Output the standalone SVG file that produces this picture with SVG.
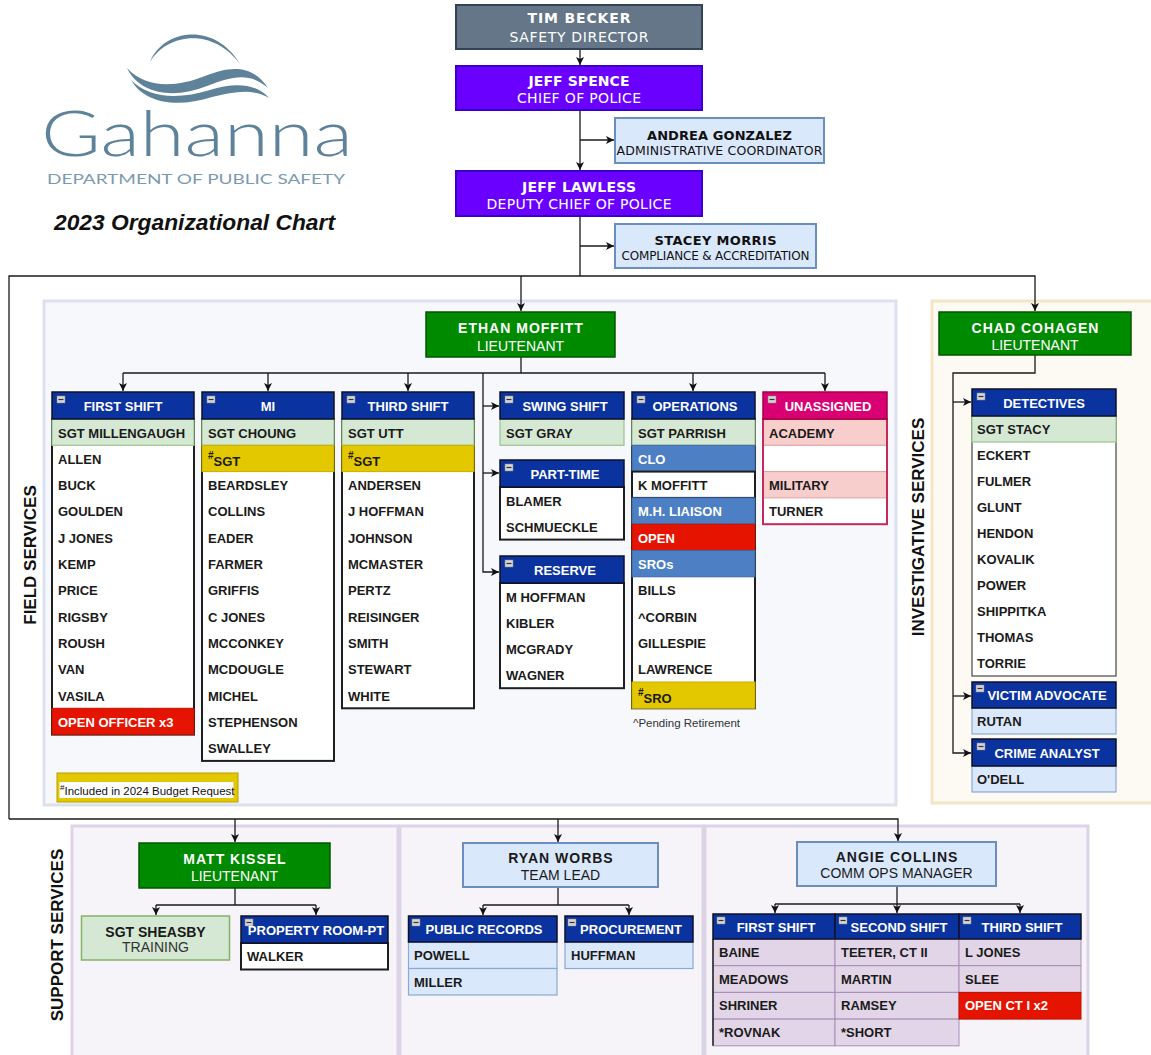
<svg xmlns="http://www.w3.org/2000/svg" width="1151" height="1055" viewBox="0 0 1151 1055">
<defs>
<style>
.tah{font-family:"DejaVu Sans",Verdana,sans-serif;text-anchor:middle}
.nm{font-family:"Liberation Sans",Arial,sans-serif;font-size:13px;font-weight:bold;fill:#1a1a1a}
.nw{fill:#fff}
.hd{font-family:"Liberation Sans",Arial,sans-serif;font-size:13px;font-weight:bold;fill:#fff;text-anchor:middle}
.hdr{fill:#0b339f;stroke:#101028;stroke-width:1.5}
.body{fill:#fff;stroke:#1e1e1e;stroke-width:2}
.sgt{fill:#d5e8d4;stroke:#9cc48a;stroke-width:1.2}
.yel{fill:#e3c800;stroke:#c8ad00;stroke-width:1}
.red{fill:#e51400;stroke:#c01000;stroke-width:1}
.clo{fill:#4d7fc4;stroke:#3d68a8;stroke-width:1}
.lbl{fill:#dae8fc;stroke:#8aa8d4;stroke-width:1.2}
.pur{fill:#e1d5e7;stroke:#a98cb8;stroke-width:1}
.pink{fill:#f8cecc;stroke:#e3a0a5;stroke-width:1}
.conn{fill:none;stroke:#1a1a1a;stroke-width:1.3}
.arr{marker-end:url(#ah)}
.grn{fill:#008a00;stroke:#005700;stroke-width:1.5}
.blu{fill:#dae8fc;stroke:#6c8ebf;stroke-width:2}
.lt{font-family:"Liberation Sans",Arial,sans-serif;font-size:14px;fill:#fff;text-anchor:middle}
.dk{fill:#1a1a1a}
.gr{fill:#333}
.ltb{font-weight:bold;letter-spacing:1px}
.sec{font-family:"Liberation Sans",Arial,sans-serif;font-size:17px;font-weight:bold;fill:#111;text-anchor:middle}
.panel{stroke-width:3}
</style>
<marker id="ah" markerWidth="9" markerHeight="8" refX="8" refY="4" orient="auto" markerUnits="userSpaceOnUse"><path d="M0,0 L8,4 L0,8 L2,4 Z" fill="#111"/></marker>
<g id="mn"><rect x="0" y="0" width="8" height="7" fill="#d4d4d4" stroke="#888" stroke-width="0.5"/><line x1="1.5" y1="3.5" x2="6.5" y2="3.5" stroke="#333" stroke-width="1.2"/></g>
</defs>
<rect width="1151" height="1055" fill="#fff"/>

<g id="logo">
<path d="M150,62 C162,30 214,20 240,64 C212,26 166,34 150,62 Z" fill="#5e8299"/>
<path d="M127,68 C145,88 175,88 205,76 C230,66 252,64 268,88 C250,72 232,76 207,86 C175,99 140,95 127,68 Z" fill="#5e8299"/>
<path d="M131,80 C148,98 178,100 210,90 C232,83 255,82 269,98 C252,88 234,92 212,97 C178,108 145,104 131,80 Z" fill="#5e8299"/>
<text x="41" y="156" font-family="Lato,'Open Sans',sans-serif" font-weight="300" font-size="64" fill="#5e8299" textLength="312" lengthAdjust="spacingAndGlyphs">Gahanna</text>
<text x="47" y="183.5" font-family="Lato,'Open Sans',sans-serif" font-size="13.5" fill="#7b9ab0" textLength="298" lengthAdjust="spacingAndGlyphs">DEPARTMENT OF PUBLIC SAFETY</text>
<text x="54" y="230" font-family="'Liberation Sans',Arial,sans-serif" font-weight="bold" font-style="italic" font-size="22.5" fill="#111" textLength="281" lengthAdjust="spacingAndGlyphs">2023 Organizational Chart</text>
</g>

<g id="panels">
<rect class="panel" x="44" y="301" width="852" height="504" fill="#f6f8fc" stroke="#dbe2ee"/>
<rect class="panel" x="932" y="301" width="230" height="502" fill="#fdfaf3" stroke="#f3e5c6"/>
<rect class="panel" x="72" y="826" width="326" height="240" fill="#f6f4f8" stroke="#ddd3e6"/>
<rect class="panel" x="400" y="826" width="303" height="240" fill="#f6f4f8" stroke="#ddd3e6"/>
<rect class="panel" x="705" y="826" width="383" height="240" fill="#f6f4f8" stroke="#ddd3e6"/>
</g>

<g id="section-labels">
<text class="sec" transform="translate(36,555) rotate(-90)">FIELD SERVICES</text>
<text class="sec" transform="translate(924,527) rotate(-90)">INVESTIGATIVE SERVICES</text>
<text class="sec" transform="translate(63,935) rotate(-90)" font-size="17.5">SUPPORT SERVICES</text>
</g>

<g id="connectors">
<path class="conn arr" d="M580,49 V65"/>
<path class="conn arr" d="M580,110 V170"/>
<path class="conn arr" d="M580,140 H614"/>
<path class="conn" d="M580,216 V276"/>
<path class="conn arr" d="M580,246 H614"/>
<path class="conn arr" d="M9,819 V276 H1035 V311"/>
<path class="conn arr" d="M521,276 V311"/>
<path class="conn arr" d="M9,819 H898 V841"/>
<path class="conn arr" d="M235,819 V842"/>
<path class="conn arr" d="M558,819 V842"/>
<path class="conn" d="M521,357 V373 M123,373 H825"/>
<path class="conn arr" d="M123,373 V391"/>
<path class="conn arr" d="M268,373 V391"/>
<path class="conn arr" d="M408,373 V391"/>
<path class="conn arr" d="M693,373 V391"/>
<path class="conn arr" d="M825,373 V391"/>
<path class="conn arr" d="M483,373 V572 H499"/>
<path class="conn arr" d="M483,406 H499"/>
<path class="conn arr" d="M483,473 H499"/>
<path class="conn arr" d="M1035,355 V373 H953 V753 H971"/>
<path class="conn arr" d="M953,402 H971"/>
<path class="conn arr" d="M953,696 H971"/>
<path class="conn" d="M235,888 V905 M156,905 H316"/>
<path class="conn arr" d="M156,905 V915"/>
<path class="conn arr" d="M316,905 V915"/>
<path class="conn" d="M558,887 V905 M483,905 H629"/>
<path class="conn arr" d="M483,905 V915"/>
<path class="conn arr" d="M629,905 V915"/>
<path class="conn" d="M897,886 V904 M775,904 H1020"/>
<path class="conn arr" d="M775,904 V913"/>
<path class="conn arr" d="M897,904 V913"/>
<path class="conn arr" d="M1020,904 V913"/>
</g>

<g id="tim-becker">
<rect x="456" y="5" width="246" height="44" fill="#647687" stroke="#314354" stroke-width="2"/>
<text class="tah" x="579" y="23" font-size="14" font-weight="bold" fill="#fff" textLength="103">TIM BECKER</text>
<text class="tah" x="579" y="41.5" font-size="14" fill="#fff" textLength="139">SAFETY DIRECTOR</text>
</g>
<g id="jeff-spence">
<rect x="456" y="66" width="246" height="44" fill="#6a00ff" stroke="#3700cc" stroke-width="2"/>
<text class="tah" x="579" y="86" font-size="14" font-weight="bold" fill="#fff" textLength="101">JEFF SPENCE</text>
<text class="tah" x="579" y="103" font-size="14" fill="#fff" textLength="124">CHIEF OF POLICE</text>
</g>
<g id="andrea-gonzalez">
<rect class="blu" x="615" y="118" width="209" height="45"/>
<text class="tah" x="719.5" y="139.5" font-size="13" font-weight="bold" fill="#111" textLength="145">ANDREA GONZALEZ</text>
<text class="tah" x="719.5" y="154.5" font-size="12.5" fill="#111" textLength="206">ADMINISTRATIVE COORDINATOR</text>
</g>
<g id="jeff-lawless">
<rect x="456" y="171" width="246" height="45" fill="#6a00ff" stroke="#3700cc" stroke-width="2"/>
<text class="tah" x="579" y="191.5" font-size="14" font-weight="bold" fill="#fff" textLength="114">JEFF LAWLESS</text>
<text class="tah" x="579" y="208.5" font-size="14" fill="#fff" textLength="185">DEPUTY CHIEF OF POLICE</text>
</g>
<g id="stacey-morris">
<rect class="blu" x="615" y="224" width="201" height="44"/>
<text class="tah" x="715.5" y="245" font-size="13" font-weight="bold" fill="#111" textLength="122">STACEY MORRIS</text>
<text class="tah" x="715.5" y="259.5" font-size="12" fill="#111" textLength="188">COMPLIANCE &amp; ACCREDITATION</text>
</g>

<g id="ethan-moffitt">
<rect class="grn" x="426" y="312" width="189" height="45"/>
<text class="lt ltb" x="521" y="333">ETHAN MOFFITT</text>
<text class="lt" x="520.5" y="351">LIEUTENANT</text>
</g>
<g id="chad-cohagen">
<rect class="grn" x="939" y="312" width="192" height="43"/>
<text class="lt ltb" x="1035.5" y="333">CHAD COHAGEN</text>
<text class="lt" x="1035" y="350">LIEUTENANT</text>
</g>

<g id="first-shift">
<rect class="body" x="52" y="419" width="142" height="315.6"/>
<rect class="sgt" x="52" y="419" width="142" height="26.3"/>
<rect class="red" x="52" y="708.3" width="142" height="26.3"/>
<rect class="hdr" x="52" y="392" width="142" height="27"/>
<use href="#mn" x="57" y="396"/>
<text class="hd" x="123" y="411">FIRST SHIFT</text>
<text class="nm" x="58" y="437.5">SGT MILLENGAUGH</text>
<text class="nm" x="58" y="463.8">ALLEN</text>
<text class="nm" x="58" y="490.1">BUCK</text>
<text class="nm" x="58" y="516.4">GOULDEN</text>
<text class="nm" x="58" y="542.7">J JONES</text>
<text class="nm" x="58" y="569">KEMP</text>
<text class="nm" x="58" y="595.3">PRICE</text>
<text class="nm" x="58" y="621.6">RIGSBY</text>
<text class="nm" x="58" y="647.9">ROUSH</text>
<text class="nm" x="58" y="674.2">VAN</text>
<text class="nm" x="58" y="700.5">VASILA</text>
<text class="nm nw" x="58" y="726.8">OPEN OFFICER x3</text>
</g>

<g id="mi">
<rect class="body" x="202" y="419" width="132" height="341.9"/>
<rect class="sgt" x="202" y="419" width="132" height="26.3"/>
<rect class="yel" x="202" y="445.3" width="132" height="26.3"/>
<rect class="hdr" x="202" y="392" width="132" height="27"/>
<use href="#mn" x="207" y="396"/>
<text class="hd" x="268" y="411">MI</text>
<text class="nm" x="208" y="437.5">SGT CHOUNG</text>
<text class="nm" x="208"><tspan y="459" font-size="10">#</tspan><tspan y="466">SGT</tspan></text>
<text class="nm" x="208" y="490.1">BEARDSLEY</text>
<text class="nm" x="208" y="516.4">COLLINS</text>
<text class="nm" x="208" y="542.7">EADER</text>
<text class="nm" x="208" y="569">FARMER</text>
<text class="nm" x="208" y="595.3">GRIFFIS</text>
<text class="nm" x="208" y="621.6">C JONES</text>
<text class="nm" x="208" y="647.9">MCCONKEY</text>
<text class="nm" x="208" y="674.2">MCDOUGLE</text>
<text class="nm" x="208" y="700.5">MICHEL</text>
<text class="nm" x="208" y="726.8">STEPHENSON</text>
<text class="nm" x="208" y="753.1">SWALLEY</text>
</g>

<g id="third-shift">
<rect class="body" x="342" y="419" width="132" height="289.3"/>
<rect class="sgt" x="342" y="419" width="132" height="26.3"/>
<rect class="yel" x="342" y="445.3" width="132" height="26.3"/>
<rect class="hdr" x="342" y="392" width="132" height="27"/>
<use href="#mn" x="347" y="396"/>
<text class="hd" x="408" y="411">THIRD SHIFT</text>
<text class="nm" x="348" y="437.5">SGT UTT</text>
<text class="nm" x="348"><tspan y="459" font-size="10">#</tspan><tspan y="466">SGT</tspan></text>
<text class="nm" x="348" y="490.1">ANDERSEN</text>
<text class="nm" x="348" y="516.4">J HOFFMAN</text>
<text class="nm" x="348" y="542.7">JOHNSON</text>
<text class="nm" x="348" y="569">MCMASTER</text>
<text class="nm" x="348" y="595.3">PERTZ</text>
<text class="nm" x="348" y="621.6">REISINGER</text>
<text class="nm" x="348" y="647.9">SMITH</text>
<text class="nm" x="348" y="674.2">STEWART</text>
<text class="nm" x="348" y="700.5">WHITE</text>
</g>

<g id="swing-shift">
<rect class="sgt" x="500" y="419" width="124" height="26.3"/>
<rect class="hdr" x="500" y="392" width="124" height="27"/>
<use href="#mn" x="505" y="396"/>
<text class="hd" x="565" y="411">SWING SHIFT</text>
<text class="nm" x="506" y="437.5">SGT GRAY</text>
</g>

<g id="part-time">
<rect class="body" x="500" y="487" width="124" height="52.6"/>
<rect class="hdr" x="500" y="460" width="124" height="27"/>
<use href="#mn" x="505" y="464"/>
<text class="hd" x="565" y="479">PART-TIME</text>
<text class="nm" x="506" y="505.5">BLAMER</text>
<text class="nm" x="506" y="531.8">SCHMUECKLE</text>
</g>

<g id="reserve">
<rect class="body" x="500" y="583" width="124" height="105.2"/>
<rect class="hdr" x="500" y="556" width="124" height="27"/>
<use href="#mn" x="505" y="560"/>
<text class="hd" x="565" y="575">RESERVE</text>
<text class="nm" x="506" y="601.5">M HOFFMAN</text>
<text class="nm" x="506" y="627.8">KIBLER</text>
<text class="nm" x="506" y="654.1">MCGRADY</text>
<text class="nm" x="506" y="680.4">WAGNER</text>
</g>

<g id="operations">
<rect class="body" x="632" y="419" width="123" height="289.3"/>
<rect class="sgt" x="632" y="419" width="123" height="26.3"/>
<rect class="clo" x="632" y="445.3" width="123" height="26.3"/>
<rect class="body" x="632" y="471.6" width="123" height="26.3"/>
<rect class="clo" x="632" y="497.9" width="123" height="26.3"/>
<rect class="red" x="632" y="524.2" width="123" height="26.3"/>
<rect class="clo" x="632" y="550.5" width="123" height="26.3"/>
<rect class="yel" x="632" y="682" width="123" height="26.3"/>
<rect class="hdr" x="632" y="392" width="123" height="27"/>
<use href="#mn" x="637" y="396"/>
<text class="hd" x="695" y="411">OPERATIONS</text>
<text class="nm" x="638" y="437.5">SGT PARRISH</text>
<text class="nm nw" x="638" y="463.8">CLO</text>
<text class="nm" x="638" y="490.1">K MOFFITT</text>
<text class="nm nw" x="638" y="516.4">M.H. LIAISON</text>
<text class="nm nw" x="638" y="542.7">OPEN</text>
<text class="nm nw" x="638" y="569">SROs</text>
<text class="nm" x="638" y="595.3">BILLS</text>
<text class="nm" x="638" y="621.6">^CORBIN</text>
<text class="nm" x="638" y="647.9">GILLESPIE</text>
<text class="nm" x="638" y="674.2">LAWRENCE</text>
<text class="nm" x="638"><tspan y="695.7" font-size="10">#</tspan><tspan y="702.7">SRO</tspan></text>
<text x="633" y="727" font-family="'Liberation Sans',Arial,sans-serif" font-size="11.5" fill="#333">^Pending Retirement</text>
</g>

<g id="unassigned">
<rect x="763" y="419" width="124" height="105.2" fill="#fff"/>
<rect class="pink" x="763" y="419" width="124" height="26.3"/>
<rect x="763" y="445.3" width="124" height="26.3" fill="#fff" stroke="#e3a0a5" stroke-width="1"/>
<rect class="pink" x="763" y="471.6" width="124" height="26.3"/>
<rect x="763" y="419" width="124" height="105.2" fill="none" stroke="#c42a5a" stroke-width="2"/>
<rect x="763" y="392" width="124" height="27" fill="#d80073" stroke="#a50040" stroke-width="1.5"/>
<use href="#mn" x="768" y="396"/>
<text class="hd" x="828" y="411">UNASSIGNED</text>
<text class="nm" x="769" y="437.5">ACADEMY</text>
<text class="nm" x="769" y="490.1">MILITARY</text>
<text class="nm" x="769" y="516.4">TURNER</text>
</g>

<g id="legend">
<rect x="57" y="773" width="181" height="29" fill="#e3c800" stroke="#b8a000" stroke-width="1"/>
<rect x="59.5" y="782" width="174" height="16" fill="#fff"/>
<text x="60" font-family="'Liberation Sans',Arial,sans-serif" font-size="11.5" fill="#111"><tspan y="790" font-size="8">#</tspan><tspan y="795">Included in 2024 Budget Request</tspan></text>
</g>

<g id="detectives">
<rect x="972" y="416" width="144" height="260" fill="#fff" stroke="#555" stroke-width="1.3"/>
<rect class="sgt" x="972" y="416" width="144" height="26"/>
<rect class="hdr" x="972" y="389" width="144" height="27"/>
<use href="#mn" x="977" y="393"/>
<text class="hd" x="1044" y="408">DETECTIVES</text>
<text class="nm" x="977" y="433.8">SGT STACY</text>
<text class="nm" x="977" y="459.8">ECKERT</text>
<text class="nm" x="977" y="485.8">FULMER</text>
<text class="nm" x="977" y="511.8">GLUNT</text>
<text class="nm" x="977" y="537.8">HENDON</text>
<text class="nm" x="977" y="563.8">KOVALIK</text>
<text class="nm" x="977" y="589.8">POWER</text>
<text class="nm" x="977" y="615.8">SHIPPITKA</text>
<text class="nm" x="977" y="641.8">THOMAS</text>
<text class="nm" x="977" y="667.8">TORRIE</text>
</g>

<g id="victim-advocate">
<rect class="lbl" x="972" y="708" width="144" height="26"/>
<rect class="hdr" x="972" y="682" width="144" height="26"/>
<use href="#mn" x="976" y="685"/>
<text class="hd" x="1047" y="700">VICTIM ADVOCATE</text>
<text class="nm" x="977" y="725.8">RUTAN</text>
</g>

<g id="crime-analyst">
<rect class="lbl" x="972" y="766" width="144" height="26"/>
<rect class="hdr" x="972" y="739" width="144" height="27"/>
<use href="#mn" x="977" y="743"/>
<text class="hd" x="1047" y="757.5">CRIME ANALYST</text>
<text class="nm" x="977" y="783.8">O'DELL</text>
</g>

<g id="matt-kissel">
<rect class="grn" x="139" y="843" width="191" height="45"/>
<text class="lt ltb" x="235" y="863.5">MATT KISSEL</text>
<text class="lt" x="234.5" y="880.5">LIEUTENANT</text>
</g>
<g id="ryan-worbs">
<rect class="blu" x="463" y="843" width="195" height="44"/>
<text class="lt ltb dk" x="561" y="863">RYAN WORBS</text>
<text class="lt dk" x="560.5" y="880">TEAM LEAD</text>
</g>
<g id="angie-collins">
<rect class="blu" x="797" y="842" width="199" height="44"/>
<text class="lt ltb dk" x="897" y="862">ANGIE COLLINS</text>
<text class="lt dk" x="896.5" y="878">COMM OPS MANAGER</text>
</g>

<g id="sgt-sheasby">
<rect x="81.5" y="916" width="148" height="44" fill="#d5e8d4" stroke="#82b366" stroke-width="1.5"/>
<text class="lt dk" x="155.5" y="937" font-weight="bold">SGT SHEASBY</text>
<text class="lt gr" x="155.5" y="951.5">TRAINING</text>
</g>

<g id="property-room">
<rect class="body" x="241" y="943" width="147" height="26.5"/>
<rect class="hdr" x="241" y="916" width="147" height="27"/>
<use href="#mn" x="245" y="919"/>
<text class="hd" x="316" y="935">PROPERTY ROOM-PT</text>
<text class="nm" x="247" y="961">WALKER</text>
</g>

<g id="public-records">
<rect class="lbl" x="408.5" y="942" width="148.5" height="26.5"/>
<rect class="lbl" x="408.5" y="968.5" width="148.5" height="26.5"/>
<rect class="hdr" x="408.5" y="916" width="148.5" height="26"/>
<use href="#mn" x="412" y="919"/>
<text class="hd" x="484" y="934">PUBLIC RECORDS</text>
<text class="nm" x="414" y="960">POWELL</text>
<text class="nm" x="414" y="986.5">MILLER</text>
</g>

<g id="procurement">
<rect class="lbl" x="565" y="942" width="128" height="26.5"/>
<rect class="hdr" x="565" y="916" width="128" height="26"/>
<use href="#mn" x="568" y="919"/>
<text class="hd" x="631" y="934">PROCUREMENT</text>
<text class="nm" x="571" y="960">HUFFMAN</text>
</g>

<g id="comm-first-shift">
<rect class="pur" x="713" y="939" width="122" height="26.7"/>
<rect class="pur" x="713" y="965.7" width="122" height="26.7"/>
<rect class="pur" x="713" y="992.4" width="122" height="26.7"/>
<rect class="pur" x="713" y="1019.1" width="122" height="26.7"/>
<line x1="713" y1="939" x2="713" y2="1045.8" stroke="#222" stroke-width="1.5"/>
<rect class="hdr" x="713" y="914" width="122" height="25"/>
<use href="#mn" x="717" y="917"/>
<text class="hd" x="776" y="931.5">FIRST SHIFT</text>
<text class="nm" x="719" y="957">BAINE</text>
<text class="nm" x="719" y="983.7">MEADOWS</text>
<text class="nm" x="719" y="1010.4">SHRINER</text>
<text class="nm" x="719" y="1037.1">*ROVNAK</text>
</g>

<g id="comm-second-shift">
<rect class="pur" x="835" y="939" width="124" height="26.7"/>
<rect class="pur" x="835" y="965.7" width="124" height="26.7"/>
<rect class="pur" x="835" y="992.4" width="124" height="26.7"/>
<rect class="pur" x="835" y="1019.1" width="124" height="26.7"/>
<rect class="hdr" x="835" y="914" width="124" height="25"/>
<use href="#mn" x="839" y="917"/>
<text class="hd" x="899" y="931.5">SECOND SHIFT</text>
<text class="nm" x="841" y="957">TEETER, CT II</text>
<text class="nm" x="841" y="983.7">MARTIN</text>
<text class="nm" x="841" y="1010.4">RAMSEY</text>
<text class="nm" x="841" y="1037.1">*SHORT</text>
</g>

<g id="comm-third-shift">
<rect class="pur" x="959" y="939" width="122" height="26.7"/>
<rect class="pur" x="959" y="965.7" width="122" height="26.7"/>
<rect class="red" x="959" y="992.4" width="122" height="26.7"/>
<rect class="hdr" x="959" y="914" width="122" height="25"/>
<use href="#mn" x="963" y="917"/>
<text class="hd" x="1022" y="931.5">THIRD SHIFT</text>
<text class="nm" x="965" y="957">L JONES</text>
<text class="nm" x="965" y="983.7">SLEE</text>
<text class="nm nw" x="965" y="1010.4">OPEN CT I x2</text>
</g>
</svg>
